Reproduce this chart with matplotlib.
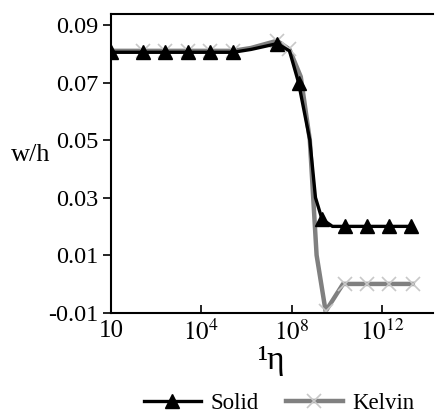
import numpy as np
import matplotlib
matplotlib.use('Agg')
import matplotlib.pyplot as plt

plt.rcParams['font.family'] = ['Liberation Serif', 'DejaVu Serif']
plt.rcParams['mathtext.fontset'] = 'stix'

# ==============================
# Data (x given as log10(eta))
# ==============================
solid_exp = [0, 1.4, 2.4, 3.4, 4.4, 5.4, 6.2, 7.35, 7.9, 8.3, 8.8, 9.05, 9.34, 9.8, 10.35, 11.33, 12.3, 13.27]
solid_wh = [0.0805, 0.0805, 0.0805, 0.0805, 0.0805, 0.0805, 0.0815, 0.0835, 0.081, 0.070, 0.050, 0.030, 0.0225, 0.020, 0.020, 0.020, 0.020, 0.020]
solid_marks = [0, 1, 2, 3, 4, 5, 7, 9, 12, 14, 15, 16, 17]

kelvin_exp = [0, 1.4, 2.4, 3.4, 4.4, 5.4, 6.2, 7.35, 7.9, 8.4, 8.8, 9.1, 9.5, 10.27, 10.35, 11.33, 12.3, 13.36]
kelvin_wh = [0.081, 0.081, 0.081, 0.081, 0.081, 0.081, 0.082, 0.0845, 0.0815, 0.072, 0.050, 0.010, -0.0095, 0.0, 0.0, 0.0, 0.0, 0.0]
kelvin_marks = [1, 2, 3, 4, 5, 7, 8, 12, 14, 15, 16, 17]

xtick_exp = [0, 4, 8, 12]
xtick_labels = ['10', '$10^{4}$', '$10^{8}$', '$10^{12}$']
ytick_vals = [-0.01, 0.01, 0.03, 0.05, 0.07, 0.09]

fig = plt.figure(figsize=(4.36, 4.16), dpi=100)
ax = fig.add_axes([0.2546, 0.2483, 0.7384, 0.718])

ax.plot(10.0 ** np.array(kelvin_exp), kelvin_wh, color='#808080', lw=3.2,
        marker='x', markevery=kelvin_marks, markersize=10, markeredgewidth=1.2,
        markeredgecolor='#c8c8c8', label='Kelvin', zorder=2)
ax.plot(10.0 ** np.array(solid_exp), solid_wh, color='black', lw=2.4,
        marker='^', markevery=solid_marks, markersize=10,
        label='Solid', zorder=3)

ax.set_xscale('log')
ax.set_xlim(1, 10 ** 14.25)
ax.set_ylim(-0.01, 0.0938)
ax.set_xticks([10.0 ** e for e in xtick_exp])
ax.set_xticklabels(xtick_labels)
ax.minorticks_off()
ax.set_yticks(ytick_vals)
ax.set_yticklabels(['%.2f' % v for v in ytick_vals])

ax.spines['right'].set_visible(False)
for s in ['left', 'bottom', 'top']:
    ax.spines[s].set_linewidth(1.5)
ax.tick_params(axis='x', direction='in', length=6, width=1.2, labelsize=18, pad=5)
ax.tick_params(axis='y', direction='out', length=6, width=1.2, labelsize=17.5, pad=3)

ax.set_ylabel('w/h', fontsize=19, rotation=0, labelpad=0)
ax.yaxis.set_label_coords(-0.25, 0.49)
ax.set_xlabel('¹η', fontsize=24, labelpad=0)

handles, labels = ax.get_legend_handles_labels()
leg = fig.legend(handles[::-1], labels[::-1], loc='center', bbox_to_anchor=(0.64, 0.03),
                 ncol=2, frameon=False, fontsize=16.5, handlelength=2.5, numpoints=1,
                 columnspacing=1.2, handletextpad=0.4)

fig.savefig('out.png', dpi=100)
